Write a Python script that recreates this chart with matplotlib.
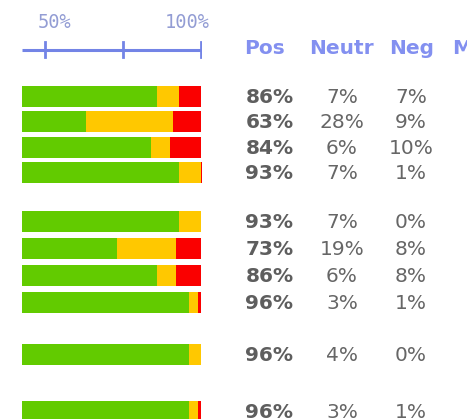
import matplotlib.pyplot as plt

# sentiment split per item (percent)
pos = [86, 63, 84, 93, 93, 73, 86, 96, 96, 96]
neu = [7, 28, 6, 7, 7, 19, 6, 3, 4, 3]
neg = [7, 9, 10, 1, 0, 8, 8, 1, 0, 1]

headers = ['Pos', 'Neutr', 'Neg', 'M']
scale_ticks = [50, 75, 100]
scale_labels = {50: '50%', 100: '100%'}

# layout in pixels (figure is 467 x 419)
W, H = 467, 419
row_y = [96.5, 121.5, 147.5, 172.5, 221.5, 248.5, 275.5, 302.5, 354.5, 411.5]
bar_h = 21
bar_x0, bar_x1 = 22, 202
x_lo, x_hi = 42.6, 100.3

GREEN = '#62cb00'
YELLOW = '#ffc800'
RED = '#fa0000'
BLUE = '#7384e6'
HEAD = '#8390f0'
GRAY = '#5e5e5e'

fig = plt.figure(figsize=(W / 100, H / 100), dpi=100)
fig.patch.set_facecolor('white')

# page axes in pixel coords for the text
ax = fig.add_axes([0, 0, 1, 1])
ax.set_xlim(0, W)
ax.set_ylim(H, 0)
ax.axis('off')

# bar axes, x in percent
bx = fig.add_axes([bar_x0 / W, 0, (bar_x1 - bar_x0) / W, 1])
bx.set_xlim(x_lo, x_hi)
bx.set_ylim(H, 0)
bx.axis('off')

for y, p, n, g in zip(row_y, pos, neu, neg):
    bx.barh(y, p, left=0, height=bar_h, color=GREEN, lw=0)
    bx.barh(y, n, left=p, height=bar_h, color=YELLOW, lw=0)
    bx.barh(y, g, left=p + n, height=bar_h, color=RED, lw=0)

# percentage scale on top
bx.plot([x_lo, 100], [50, 50], color=BLUE, lw=2.2, solid_capstyle='butt')
for t in scale_ticks:
    bx.plot([t, t], [42, 57], color=BLUE, lw=2)
ax.text(55, 22, scale_labels[50], color='#939dd4', fontsize=13.5,
        family='DejaVu Sans Mono', ha='center', va='center')
ax.text(187, 22, scale_labels[100], color='#939dd4', fontsize=13.5,
        family='DejaVu Sans Mono', ha='center', va='center')

# column headers
head_x = [265, 341, 412, 452]
for hx, h in zip(head_x, headers):
    ha = 'left' if h == 'M' else 'center'
    ax.text(hx, 48, h, color=HEAD, fontsize=14.5, fontweight='bold',
            ha=ha, va='center')

# value columns
for y, p, n, g in zip(row_y, pos, neu, neg):
    ty = y + 1
    ax.text(269.5, ty, f'{p}%', color=GRAY, fontsize=14.5, fontweight='bold',
            ha='center', va='center')
    ax.text(342, ty, f'{n}%', color='#666666', fontsize=14.5,
            ha='center', va='center')
    ax.text(411, ty, f'{g}%', color='#666666', fontsize=14.5,
            ha='center', va='center')

fig.savefig('out.png', dpi=100, facecolor='white')
